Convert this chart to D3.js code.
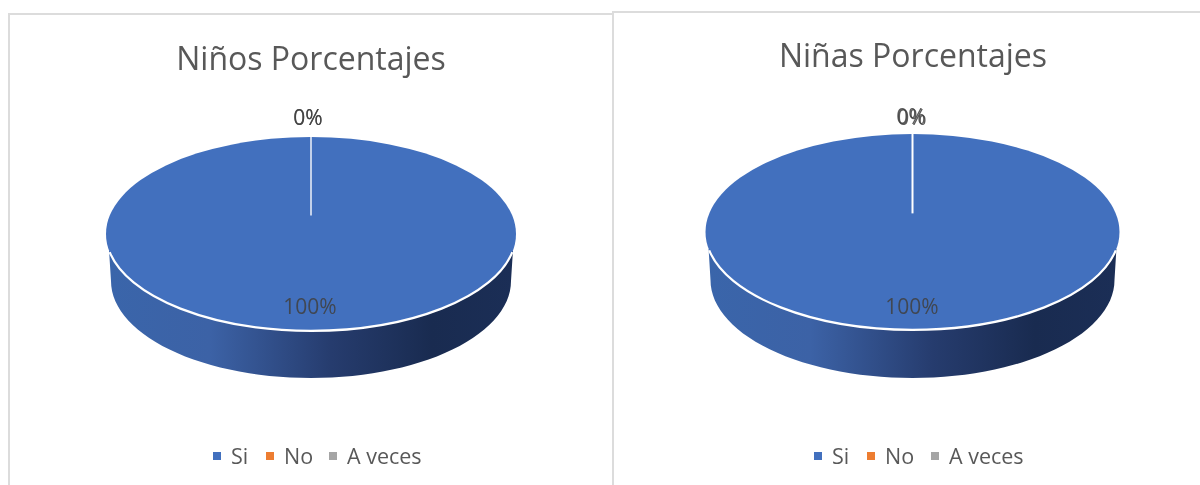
<!DOCTYPE html>
<html>
<head>
<meta charset="utf-8">
<script src="https://cdn.jsdelivr.net/npm/d3@7"></script>
<style>
  html, body { margin: 0; padding: 0; background: #fff; }
  svg { display: block; }
  text { font-family: "Open Sans", sans-serif; }
</style>
</head>
<body>
<svg id="chart" width="1200" height="485"></svg>
<script>
const categories = ["Si", "No", "A veces"];
const colors = ["#4270be", "#ed7d31", "#a5a5a5"];
const ninosValues = [100, 0, 0];
const ninasValues = [100, 0, 0];

const svg = d3.select("#chart");
const fmt = d3.format(".0%");

// side wall shading, left to right
const grad = svg.append("defs").append("linearGradient").attr("id", "wall");
[[0, "#3a65aa"], [0.25, "#3c62a6"], [0.55, "#263c6e"], [0.8, "#192b50"], [1, "#1b2e56"]].forEach(s => {
  grad.append("stop").attr("offset", s[0]).attr("stop-color", s[1]);
});
const soft = svg.select("defs").append("filter").attr("id", "soft");
soft.append("feGaussianBlur").attr("stdDeviation", 0.4);

function drawPanel(cfg) {
  const g = svg.append("g");

  // panel border
  g.append("path")
    .attr("d", `M${cfg.left},485V${cfg.top}H${cfg.right}`)
    .attr("fill", "none").attr("stroke", "#dcdcdc").attr("stroke-width", 2);

  g.append("text")
    .attr("x", cfg.titleX).attr("y", cfg.titleY)
    .attr("text-anchor", "middle").attr("font-size", 32).attr("fill", "#595959")
    .attr("filter", "url(#soft)")
    .text(cfg.title);

  const y = d3.scaleLinear().domain([-1, 1]).range([cfg.cy - cfg.ry, cfg.cy + cfg.ry]);

  // wall: lower half of a narrower ellipse, starting just under the rim of the top face
  const wallPts = d3.range(0, 181, 3).map(a => {
    const t = a * Math.PI / 180;
    return [cfg.cx + cfg.rxLow * Math.cos(t), cfg.cy + cfg.depth + cfg.ry * Math.sin(t)];
  });
  const shoulder = cfg.rx * 0.985;
  const wall = [[cfg.cx + shoulder, cfg.cy + 17]].concat(wallPts, [[cfg.cx - shoulder, cfg.cy + 17]]);
  g.append("path")
    .attr("d", d3.line()(wall))
    .attr("fill", "url(#wall)");

  // pie slices on a unit circle, squashed into the ellipse
  const slices = d3.pie().sort(null)(cfg.values);
  const arc = d3.arc().innerRadius(0).outerRadius(1);
  const face = g.append("g")
    .attr("transform", `translate(${cfg.cx},${cfg.cy}) scale(${cfg.rx},${cfg.ry})`);
  face.selectAll("path.slice").data(slices).join("path")
    .attr("class", "slice")
    .attr("d", arc)
    .attr("fill", (d, i) => colors[i]);

  // white rim only along the front edge
  face.append("path")
    .attr("d", d3.arc().innerRadius(1).outerRadius(1).startAngle(Math.PI * 0.56).endAngle(Math.PI * 1.44)())
    .attr("fill", "none")
    .attr("stroke", "#fff")
    .attr("stroke-width", 2.2)
    .attr("vector-effect", "non-scaling-stroke");

  // seam where the empty slices sit
  g.append("line")
    .attr("x1", cfg.cx).attr("x2", cfg.cx)
    .attr("y1", y(-1)).attr("y2", y(-0.19))
    .attr("stroke", cfg.seam).attr("stroke-width", 2);

  // data labels
  cfg.values.forEach((v, i) => {
    const total = d3.sum(cfg.values);
    const big = v > 0;
    g.append("text")
      .attr("x", big ? cfg.bigX : cfg.zeroX + (i - 1) * cfg.zeroShift)
      .attr("y", big ? cfg.bigY : cfg.zeroY + (i - 1) * cfg.zeroShift)
      .attr("text-anchor", "middle")
      .attr("font-size", 21)
      .attr("fill", "#404040")
      .attr("fill-opacity", 0.85)
      .attr("filter", "url(#soft)")
      .text(fmt(v / total));
  });

  // legend
  categories.forEach((c, i) => {
    g.append("rect")
      .attr("x", cfg.legendX[i] - 4).attr("y", 452)
      .attr("width", 8).attr("height", 8)
      .attr("fill", colors[i]);
    g.append("text")
      .attr("x", cfg.legendX[i] + 14).attr("y", 464)
      .attr("font-size", 21.5).attr("fill", "#595959")
      .attr("filter", "url(#soft)")
      .text(c);
  });
}

drawPanel({
  title: "Niños Porcentajes", values: ninosValues,
  left: 9, top: 14, right: 613,
  titleX: 311, titleY: 70,
  cx: 311, cy: 234, rx: 205, ry: 97, rxLow: 200, depth: 47,
  seam: "#c3d1ea",
  bigX: 310, bigY: 314, zeroX: 308, zeroY: 125, zeroShift: 0,
  legendX: [217, 270, 333]
});

drawPanel({
  title: "Niñas Porcentajes", values: ninasValues,
  left: 613, top: 12, right: 1200,
  titleX: 913, titleY: 67,
  cx: 912.5, cy: 232, rx: 207, ry: 98, rxLow: 202, depth: 48,
  seam: "#ffffff",
  bigX: 912, bigY: 314, zeroX: 911, zeroY: 124, zeroShift: 1,
  legendX: [818, 871, 935]
});
</script>
</body>
</html>
